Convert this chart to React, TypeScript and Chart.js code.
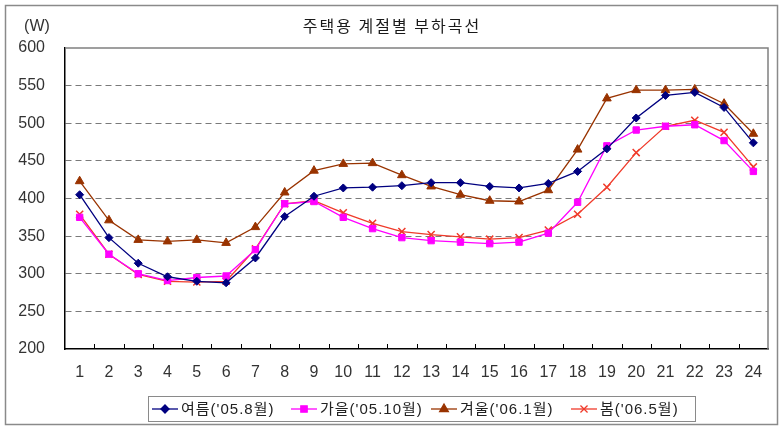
import { useEffect, useRef } from 'react';
import { Chart, registerables } from 'chart.js';
import { drawPoint } from 'chart.js/helpers';

Chart.register(...registerables);

const hours = ['1','2','3','4','5','6','7','8','9','10','11','12','13','14','15','16','17','18','19','20','21','22','23','24'];
const summer = [405, 348, 314, 296, 290, 288, 321, 376, 403, 414, 415, 417, 421, 421, 416, 414, 420, 436, 466, 507, 537, 541, 521, 474];
const autumn = [375, 326, 300, 291, 295, 297, 332, 393, 396, 375, 360, 348, 344, 342, 340, 342, 354, 395, 470, 491, 496, 498, 477, 436];
const winter = [423, 371, 345, 343, 345, 341, 362, 408, 437, 446, 447, 431, 416, 405, 397, 396, 411, 465, 533, 544, 544, 545, 526, 486];
const spring = [379, 326, 299, 290, 289, 290, 333, 393, 397, 381, 367, 356, 352, 349, 346, 348, 358, 379, 415, 461, 496, 504, 488, 442];
const seriesLabels = ["여름('05.8월)", "가을('05.10월)", "겨울('06.1월)", "봄('06.5월)"];
const chartTitle = '주택용 계절별 부하곡선';
const yUnit = '(W)';
const yMin = 200;
const yMax = 600;
const yStep = 50;

const NUM_FONT = "'Liberation Sans Narrow', 'Liberation Sans', 'Noto Sans CJK KR', sans-serif";
const KR_FONT = "'Noto Sans CJK KR', sans-serif";

const framePlugin = {
  id: 'frame',
  beforeDraw(chart: any) {
    const ctx = chart.ctx;
    ctx.save();
    ctx.fillStyle = '#ffffff';
    ctx.fillRect(0, 0, chart.width, chart.height);
    ctx.restore();
  },
  afterDraw(chart: any) {
    const ctx = chart.ctx;
    const { left, right, top, bottom } = chart.chartArea;
    ctx.save();
    // outer frame
    ctx.strokeStyle = '#8a8a8a';
    ctx.lineWidth = 1.5;
    ctx.strokeRect(5.5, 5.5, 772, 419);
    // plot top/right border
    ctx.strokeStyle = '#808080';
    ctx.lineWidth = 1.5;
    ctx.beginPath();
    ctx.moveTo(left, top);
    ctx.lineTo(right, top);
    ctx.lineTo(right, bottom);
    ctx.stroke();
    // x tick marks (inside)
    const xs = chart.scales.x;
    ctx.strokeStyle = '#000';
    ctx.lineWidth = 1;
    ctx.beginPath();
    for (let i = 1; i < hours.length; i++) {
      const x = Math.round((xs.getPixelForValue(i - 1) + xs.getPixelForValue(i)) / 2) + 0.5;
      ctx.moveTo(x, bottom);
      ctx.lineTo(x, bottom - 5);
    }
    ctx.stroke();
    // title
    ctx.fillStyle = '#1a1a1a';
    ctx.textAlign = 'center';
    ctx.textBaseline = 'middle';
    ctx.font = `16px ${KR_FONT}`;
    (ctx as any).letterSpacing = '2px';
    ctx.fillText(chartTitle, 392, 26);
    (ctx as any).letterSpacing = '0px';
    ctx.font = `16px ${NUM_FONT}`;
    ctx.fillStyle = '#333';
    ctx.fillText(yUnit, 37, 27);
    // legend
    ctx.strokeStyle = '#8a8a8a';
    ctx.lineWidth = 1;
    ctx.strokeRect(148.5, 396.5, 547, 25);
    const starts = [152, 291, 431, 571];
    chart.data.datasets.forEach((ds: any, i: number) => {
      const x0 = starts[i];
      const y0 = 409;
      ctx.strokeStyle = ds.borderColor;
      ctx.lineWidth = ds.borderWidth;
      ctx.beginPath();
      ctx.moveTo(x0, y0);
      ctx.lineTo(x0 + 26, y0);
      ctx.stroke();
      ctx.fillStyle = ds.pointBackgroundColor;
      ctx.strokeStyle = ds.pointBorderColor;
      drawPoint(ctx, { pointStyle: ds.pointStyle, radius: ds.pointRadius, rotation: 0, borderWidth: ds.pointBorderWidth }, x0 + 13, y0);
      ctx.fillStyle = '#222';
      ctx.textAlign = 'left';
      ctx.font = `15px ${NUM_FONT}`;
      (ctx as any).letterSpacing = '1px';
      ctx.fillText(ds.label, x0 + 29, y0 + 1);
      (ctx as any).letterSpacing = '0px';
    });
    ctx.restore();
  },
};

export default function App() {
  const ref = useRef<HTMLCanvasElement | null>(null);
  useEffect(() => {
    document.body.style.margin = '0';
    const canvas = ref.current!;
    const mk = (label: string, data: number[], color: string, style: string, radius: number, bw: number) => ({
      label,
      data,
      borderColor: color,
      backgroundColor: color,
      borderWidth: 1.3,
      pointStyle: style,
      pointRadius: radius,
      pointBackgroundColor: color,
      pointBorderColor: color,
      pointBorderWidth: bw,
      tension: 0,
      fill: false,
    });
    const chart = new Chart(canvas, {
      type: 'line',
      data: {
        labels: hours,
        datasets: [
          mk(seriesLabels[0], summer, '#000080', 'rectRot', 4, 1),
          mk(seriesLabels[1], autumn, '#ff00ff', 'rect', 4.5, 1),
          mk(seriesLabels[2], winter, '#993300', 'triangle', 5, 1),
          mk(seriesLabels[3], spring, '#f03a2a', 'crossRot', 5, 1.5),
        ],
      },
      plugins: [framePlugin],
      options: {
        responsive: false,
        animation: false,
        events: [],
        layout: { padding: { left: 0, top: 48, right: 14, bottom: 35 } },
        plugins: { legend: { display: false }, title: { display: false }, tooltip: { enabled: false } },
        scales: {
          x: {
            type: 'category',
            offset: true,
            grid: { display: false },
            border: { display: true, color: '#000', width: 1.5 },
            ticks: { color: '#333', font: { size: 16, family: NUM_FONT }, padding: 6, maxRotation: 0, autoSkip: false },
            afterFit: (s: any) => { s.height = 45; },
          },
          y: {
            min: yMin,
            max: yMax,
            border: { display: true, color: '#000', width: 1.5, dash: [6, 4] },
            grid: {
              drawTicks: false,
              color: (c: any) => (c.tick && (c.tick.value === yMin || c.tick.value === yMax) ? 'rgba(0,0,0,0)' : '#7a7a7a'),
              lineWidth: 1,
            },
            ticks: { stepSize: yStep, color: '#333', font: { size: 16, family: NUM_FONT }, padding: 20 },
            afterFit: (s: any) => { s.width = 65; },
          },
        },
      },
    });
    return () => chart.destroy();
  }, []);
  return <canvas ref={ref} width={782} height={429} style={{ display: 'block', width: 782, height: 429 }} />;
}
